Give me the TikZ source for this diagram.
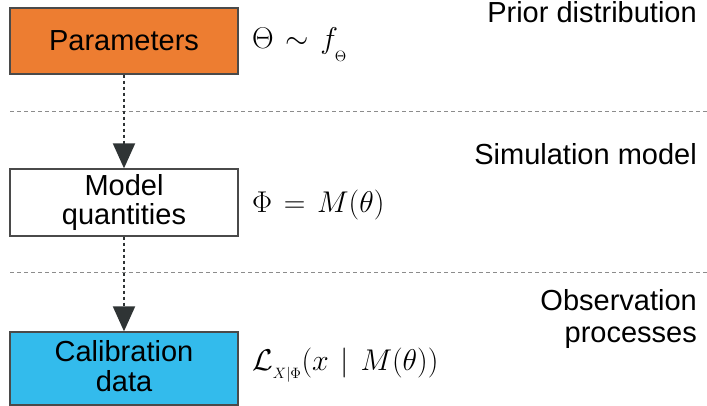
\RequirePackage{fix-cm}
\documentclass[tikz,border=0pt]{standalone}
\usepackage{fontspec}
\newfontfamily\labfont{Liberation Sans}
\usetikzlibrary{arrows.meta}
\definecolor{orangefill}{HTML}{ED7D31}
\definecolor{bluefill}{HTML}{33BBEC}
\definecolor{boxedge}{HTML}{4A4A4A}
\definecolor{arrowcol}{HTML}{2F3435}
\definecolor{sepcol}{HTML}{8C8C8C}
\newcommand{\lowsub}[2]{\raisebox{#1}{$\scriptscriptstyle #2$}}
\newcommand{\gp}{\mkern2mu}
\begin{document}
\begin{tikzpicture}[x=1pt,y=-1pt,
  box/.style={draw=boxedge, line width=1.3pt, minimum width=228pt, inner sep=0pt,
    font=\labfont\fontsize{29}{29.5}\selectfont, align=center},
  lab/.style={inner sep=0pt, font=\labfont\fontsize{29}{32}\selectfont},
  mathlab/.style={inner sep=0pt, font=\fontsize{30}{32}\selectfont},
  sepline/.style={draw=sepcol, line width=1pt, dash pattern=on 4pt off 3pt},
  flow/.style={draw=arrowcol, line width=2pt, dash pattern=on 3pt off 3pt,
    -{Triangle[width=22pt,length=25pt]}}]
\useasboundingbox (0,0) rectangle (707,406);
% separators
\coordinate (s1a) at (10,112);
\coordinate (s1b) at (707,112);
\coordinate (s2a) at (10,273);
\coordinate (s2b) at (707,273);
\draw[sepline] (s1a) -- (s1b);
\draw[sepline] (s2a) -- (s2b);
% boxes
\node[box, fill=orangefill, minimum height=66pt] (par) at (124,41) {Parameters};
\node[box, fill=white, minimum height=67pt] (mod) at (124,202.5) {Model\\quantities};
\node[box, fill=bluefill, minimum height=73pt, text depth=5pt] (cal) at (124,368.5) {Calibration\\data};
% arrows
\draw[flow] (par) -- (mod);
\draw[flow] (mod) -- (cal);
% math
\node[mathlab, anchor=base west] (m1) at (252,49) {$\Theta \gp\sim\gp f_{\lowsub{-8pt}{\Theta}}$};
\node[mathlab, anchor=base west] (m2) at (252,213) {$\Phi \gp=\gp M(\theta)$};
\node[mathlab, anchor=base west] (m3) at (252,370) {$\mathcal{L}_{\lowsub{-4pt}{X|\Phi}}(x \gp\mid\gp M(\theta))$};
% right labels
\node[lab, anchor=base east] (prior) at (697,23) {Prior distribution};
\node[lab, anchor=base east] (sim) at (697,165) {Simulation model};
\node[lab, anchor=base east, align=right] (obs) at (697,342) {Observation\\processes};
\end{tikzpicture}
\end{document}
